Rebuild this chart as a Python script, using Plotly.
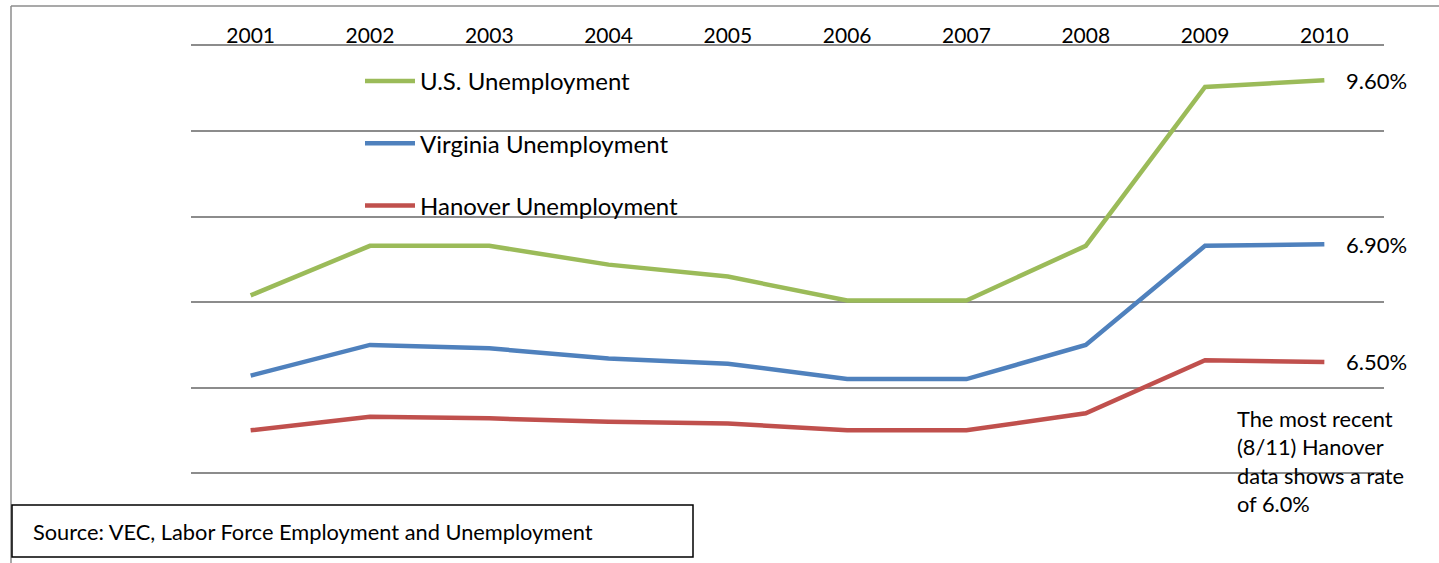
import plotly.graph_objects as go

years = ["2001", "2002", "2003", "2004", "2005", "2006", "2007", "2008", "2009", "2010"]
us_rate = [4.7, 5.8, 6.0, 5.5, 5.1, 4.6, 4.6, 5.8, 9.3, 9.6]
va_rate = [3.2, 4.2, 4.1, 3.7, 3.5, 3.0, 3.0, 4.0, 6.7, 6.9]
hanover_rate = [2.5, 3.3, 3.2, 3.0, 2.9, 2.5, 2.5, 3.5, 6.6, 6.5]

# (name, values, colour, legend rank) -- drawn bottom-up as a stacked line chart
series = [
    ("Hanover Unemployment", hanover_rate, "#C0504D", 3),
    ("Virginia Unemployment", va_rate, "#4F81BD", 2),
    ("U.S. Unemployment", us_rate, "#9BBB59", 1),
]

FONT = "Lato, Carlito, Calibri, sans-serif"
W, H = 1439, 563
ML, MR, MT, MB = 191, 55, 46, 90
PW, PH = W - ML - MR, H - MT - MB


def px(x):
    return (x - ML) / PW


def py(y):
    return (H - MB - y) / PH


fig = go.Figure()
for name, vals, color, rank in series:
    fig.add_trace(go.Scatter(
        x=years, y=vals, name=name, mode="lines",
        stackgroup="one", fill="none", legendgroup=name,
        legendrank=rank,
        line=dict(color=color, width=4.5),
    ))

# end-of-line value labels at the stacked position
cum = 0
annotations = []
last_idx = len(years) - 1
for name, vals, color, rank in series:
    cum += vals[-1]
    annotations.append(dict(
        x=last_idx, y=cum, xref="x", yref="y",
        text=f"{vals[-1]:.2f}%", showarrow=False,
        xanchor="left", yanchor="middle", xshift=20,
        font=dict(family=FONT, size=22, color="#000000"),
    ))

annotations.append(dict(
    x=px(1235), y=py(403), xref="paper", yref="paper",
    text="The most recent<br>(8/11) Hanover<br>data shows a rate<br>of 6.0%",
    showarrow=False, xanchor="left", yanchor="top", align="left",
    font=dict(family=FONT, size=21.8, color="#000000"),
))
annotations.append(dict(
    x=px(31), y=py(531), xref="paper", yref="paper",
    text="Source: VEC, Labor Force Employment and Unemployment",
    showarrow=False, xanchor="left", yanchor="middle", align="left",
    font=dict(family=FONT, size=21.8, color="#000000"),
))

shapes = [
    dict(type="line", xref="paper", yref="paper",
         x0=px(11), y0=py(563), x1=px(11), y1=py(6),
         line=dict(color="#8c8c8c", width=1.5)),
    dict(type="line", xref="paper", yref="paper",
         x0=px(11), y0=py(6), x1=px(1439), y1=py(6),
         line=dict(color="#8c8c8c", width=1.5)),
    dict(type="rect", xref="paper", yref="paper",
         x0=px(12), y0=py(557), x1=px(693), y1=py(505),
         line=dict(color="#000000", width=1.5), fillcolor="rgba(0,0,0,0)"),
]

fig.update_layout(
    width=W, height=H,
    margin=dict(l=ML, r=MR, t=MT, b=MB),
    paper_bgcolor="white", plot_bgcolor="white",
    font=dict(family=FONT, size=20, color="#000000"),
    showlegend=True,
    legend=dict(
        x=px(360), y=py(59), xanchor="left", yanchor="top",
        traceorder="grouped", tracegroupgap=28,
        bgcolor="rgba(0,0,0,0)", itemwidth=50,
        font=dict(family=FONT, size=24, color="#000000"),
    ),
    xaxis=dict(
        type="category", side="top", showgrid=False,
        showline=True, linecolor="#8c8c8c", linewidth=1.5,
        ticks="", tickfont=dict(family=FONT, size=21, color="#000000"),
        ticklabelstandoff=-7,
        range=[-0.5, len(years) - 0.5], fixedrange=True,
    ),
    yaxis=dict(
        range=[0, 25], dtick=5, showticklabels=False,
        showgrid=True, gridcolor="#8c8c8c", gridwidth=1.5,
        zeroline=True, zerolinecolor="#8c8c8c", zerolinewidth=1.5,
        showline=False, ticks="", fixedrange=True,
    ),
    annotations=annotations, shapes=shapes,
)

fig.write_html("out.html", config={"displayModeBar": False},
               post_script="document.body.style.margin='0';")
